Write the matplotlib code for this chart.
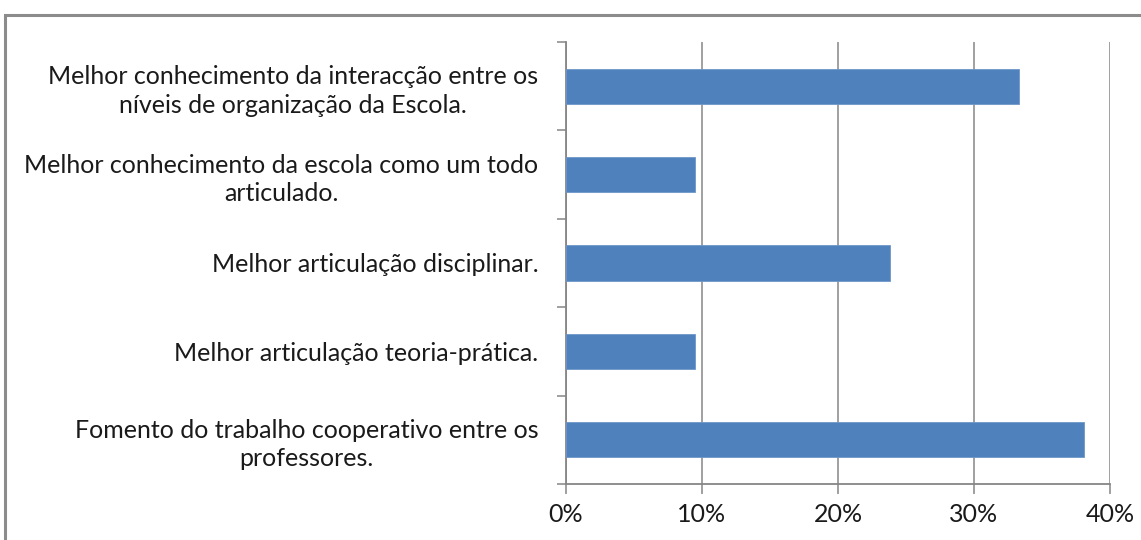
import matplotlib
matplotlib.use("Agg")
import matplotlib.pyplot as plt
from matplotlib.patches import Rectangle
from matplotlib.ticker import FixedLocator, PercentFormatter

categories = [
    "Fomento do trabalho cooperativo entre os\nprofessores.",
    "Melhor articulação teoria-prática.",
    "Melhor articulação disciplinar.",
    "Melhor conhecimento da escola como um todo\narticulado.",
    "Melhor conhecimento da interacção entre os\nníveis de organização da Escola.",
]
values = [38.1, 9.5, 23.8, 9.5, 33.3]
xticks = [0, 10, 20, 30, 40]

plt.rcParams['font.family'] = ['Lato', 'DejaVu Sans']

fig = plt.figure(figsize=(11.41, 5.40), dpi=100)
ax = fig.add_axes([566/1141, 1-484/540, (1110-566)/1141, (484-42)/540])

grid_c = '#868686'
ax.barh(range(len(categories)), values, height=0.4, color='#4F81BD',
        edgecolor='#6E97C8', linewidth=0.6, zorder=3)
ax.set_xlim(0, 40)
ax.set_ylim(-0.5, len(categories) - 0.5)
ax.set_xticks(xticks)
ax.xaxis.set_major_formatter(PercentFormatter(decimals=0))
ax.set_yticks(range(len(categories)))
ax.set_yticklabels(categories)
ax.yaxis.set_minor_locator(FixedLocator([i + 0.5 for i in range(-1, len(categories))]))

ax.grid(axis='x', color=grid_c, linewidth=1.1, zorder=0)
for s in ['top', 'right']:
    ax.spines[s].set_visible(False)
for s in ['left', 'bottom']:
    ax.spines[s].set_color(grid_c)
    ax.spines[s].set_linewidth(1.3)

ax.tick_params(axis='y', which='major', length=0, pad=20, labelsize=18, labelcolor='#1a1a1a')
ax.tick_params(axis='y', which='minor', length=6.5, color=grid_c, width=1.1)
ax.tick_params(axis='x', which='major', length=7, color=grid_c, width=1.1, pad=7,
               labelsize=18, labelcolor='#1a1a1a')
for lab in ax.get_yticklabels():
    lab.set_multialignment('center')
    lab.set_linespacing(1.3)

border = Rectangle((5/1141, -0.2), 1.2, 1 - 15/540 + 0.2, transform=fig.transFigure,
                   fill=False, edgecolor='#8c8c8c', linewidth=2.2, clip_on=False)
fig.patches.append(border)

fig.savefig('out.png', dpi=100, facecolor='white')
